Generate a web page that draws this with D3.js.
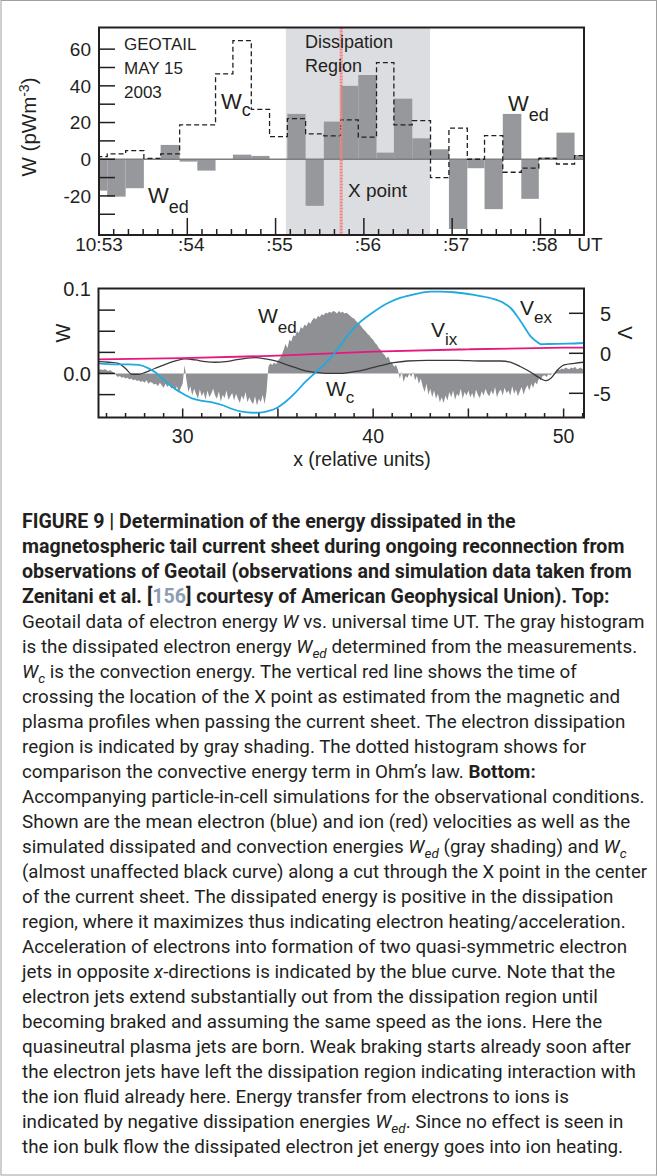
<!DOCTYPE html>
<html><head><meta charset="utf-8">
<script src="https://cdn.jsdelivr.net/npm/d3@7"></script>
<style>
body{margin:0;background:#fff;}
svg{display:block;}
.chart text{font-family:"Liberation Sans",Arial,sans-serif;fill:#231f20;}
.cap text{font-family:Roboto,"Liberation Sans",sans-serif;fill:#231f20;}
</style></head><body>
<svg id="fig" width="658" height="1176"></svg>
<script>
// ---------------- DATA ----------------
// Top panel: Geotail, seconds after 10:53:00 UT
const timeTickLabels = ["10:53", ":54", ":55", ":56", ":57", ":58"];
const timeTickSeconds = [0, 60, 120, 180, 240, 300];
const wTickValues = [-20, 0, 20, 40, 60];
const wTickLabels = ["-20", "0", "20", "40", "60"];
// histogram bin edges (s after 10:53:00)
const binEdges = [-6.6, 5.6, 18.1, 30.5, 41.9, 54.8, 66.8, 79.2, 91.0, 103.5, 115.9, 128.0, 140.4, 152.8,
  164.2, 176.2, 188.6, 200.4, 212.9, 225.3, 237.8, 250.3, 262.0, 274.4, 287.0, 298.9, 310.9, 323.2, 335.4];
// dissipated electron energy W_ed (pW m^-3), gray histogram
const wedObs = [-17.1, -20.4, -15.8, 0, 7.8, -1.3, -6.2, 0, 2.5, 1.8, 0, 24.7, -25.4, 20.5,
  40, 45.9, 3.6, 33, 11.4, 5.4, -38, -4.9, -27.2, 24.7, -21.6, 1, 14.5, 2.3];
// convection energy W_c (pW m^-3), dashed histogram
const wcObs = [1.4, 2.9, 4.7, 0.5, 2.9, 18.7, 18.7, 46.5, 64.6, 27.2, 12.3, 22.1, 13.8, 12.7,
  21.4, 12, 52.7, 18.7, 21, -10, 16.9, 0, 12.9, -7.1, -4.9, 0.5, -2.6, 2];
const dissipationRegion = [127, 225];
const xPointTime = 164.6;

// Bottom panel: PIC simulation, x in relative units
const simXTicks = [30, 40, 50];
const simWTickLabels = [[0.1, "0.1"], [0.0, "0.0"]];
const simVTickLabels = [[5, "5"], [0, "0"], [-5, "-5"]];
const simStart = 25.6, simStep = 0.1;
// W_ed simulated dissipation (units of 1e-3)
const wedSimMilli = [
  4,5,4,5,4,3,4,2,1,
  -2,-4,-3,-5,-4,-6,-5,-7,-6,-8,
  -7,-9,-8,-10,-9,-11,-8,-12,-10,-11,-13,
  -12,-15,-11,-14,-17,-12,-16,-13,-18,-15,
  -20,-15,-23,-17,-12,10,-8,-22,-15,-26,-18,
  -24,-30,-19,-27,-22,-31,-20,-28,-24,-18,
  -26,-30,-21,-33,-25,-29,-20,-31,-27,-23,
  -32,-24,-30,-35,-26,-31,-22,-34,-28,-33,
  -36,-27,-38,-30,-34,-25,-36,-22,
  8,12,10,13,11,15,18,22,
  28,35,30,40,38,45,44,
  50,48,55,53,58,56,61,59,63,
  66,64,68,67,70,69,72,71,73,
  72,74,73,71,74,72,73,71,72,70,
  68,66,65,62,60,58,55,
  52,50,47,45,42,40,
  36,34,30,28,24,22,
  18,20,14,12,8,10,
  4,-6,2,-10,-3,-5,
  0,-4,2,-8,-3,-12,-6,
  -15,-22,-12,-25,-18,-28,-20,
  -30,-24,-34,-28,-35,-26,-32,-22,
  -28,-20,-31,-24,-27,-18,-30,-22,-26,
  -20,-28,-23,-30,-19,-25,-29,-21,-26,-18,-24,
  -27,-20,-25,-16,-28,-22,-19,-26,-17,-23,
  -20,-26,-15,-24,-19,-27,-21,-16,-25,-18,-14,
  -20,-12,-17,-10,-13,-6,-8,
  -3,-2,-4,-1,-2,0,-1,
  2,5,4,6,5,7,6,5,7,6,8,5,6,7,5,6];
// W_c simulated convection energy [x, W]
const wcSim = [[25.58,0.0140],[26.11,0.0133],[26.63,0.0121],[26.99,0.0062],[27.34,-0.0009],[27.69,-0.0009],
  [28.04,0.0014],[28.56,0.0062],[29.09,0.0109],[29.62,0.0148],[30.14,0.0172],[30.67,0.0160],[31.19,0.0140],
  [31.72,0.0133],[32.24,0.0140],[32.77,0.0160],[33.30,0.0180],[33.82,0.0187],[34.35,0.0172],[34.87,0.0148],
  [35.40,0.0109],[35.93,0.0069],[36.45,0.0030],[36.98,0.0014],[37.50,0.0002],[38.03,0.0002],[38.29,0.0002],
  [38.99,0.0021],[39.69,0.0053],[40.39,0.0092],[41.09,0.0128],[41.80,0.0148],[42.85,0.0156],[44.43,0.0156],
  [45.65,0.0148],[46.70,0.0148],[47.23,0.0133],[47.75,0.0080],[48.28,0.0014],[48.72,-0.0050],[49.07,-0.0085],
  [49.33,-0.0057],[49.68,0.0041],[50.03,0.0101],[50.56,0.0121],[51.05,0.0133]];
// V_ex electron velocity [x, V]
const vexSim = [[25.58,-1.25],[26.46,-1.38],[27.16,-1.38],[27.69,-1.46],[28.21,-1.88],[28.56,-2.38],[28.92,-3.13],
  [29.44,-4.18],[29.97,-5.0],[30.49,-5.63],[31.02,-5.96],[31.55,-6.13],[32.07,-6.46],[32.60,-6.96],[33.12,-7.3],
  [33.65,-7.43],[34.17,-7.38],[34.52,-7.21],[34.96,-6.8],[35.40,-6.05],[35.93,-4.88],[36.45,-3.55],[36.98,-2.38],
  [37.50,-1.25],[38.03,0.2],[38.29,1.04],[38.55,1.88],[38.82,2.7],[39.34,3.95],[40.04,5.2],[40.75,6.25],
  [41.45,6.95],[42.15,7.38],[43.02,7.7],[43.55,7.7],[44.25,7.63],[45.30,7.29],[46.18,6.88],[46.88,6.25],
  [47.23,5.63],[47.58,4.58],[47.93,3.33],[48.28,2.08],[48.63,1.38],[48.81,1.13],[49.16,1.16],[50.21,1.2],[51.05,1.29]];
// V_ix ion velocity [x, V]
const vixSim = [[25.58,-0.75],[30,-0.6],[35,-0.3],[40,0.2],[45,0.5],[50,0.7],[51.05,0.72]];

// ---------------- DRAW ----------------
const svg = d3.select("#fig");
const defs = svg.append("defs");
svg.append("rect").attr("x",1).attr("y",0.5).attr("width",655.5).attr("height",1174.5)
  .attr("fill","none").attr("stroke","#a0a0a0").attr("stroke-width",1);

// ===== TOP PANEL =====
const T = {left:99, right:584, top:27.5, bottom:235};
const xT = d3.scaleLinear().domain([0, 329.6]).range([T.left, T.right]);
const yT = d3.scaleLinear().domain([-41.3, 71.8]).range([T.bottom, T.top]);
defs.append("clipPath").attr("id","clipT").append("rect")
  .attr("x",T.left).attr("y",T.top).attr("width",T.right-T.left).attr("height",T.bottom-T.top);
const gT = svg.append("g").attr("class","chart");
const pT = gT.append("g").attr("clip-path","url(#clipT)");
pT.append("rect").attr("x",xT(dissipationRegion[0])).attr("y",T.top)
  .attr("width",xT(dissipationRegion[1])-xT(dissipationRegion[0])).attr("height",T.bottom-T.top)
  .attr("fill","#dcdde0");
const bins = wedObs.map((v,i)=>({a:binEdges[i], b:binEdges[i+1], wed:v, wc:wcObs[i]}));
pT.selectAll("rect.bar").data(bins).join("rect").attr("class","bar")
  .attr("x",d=>xT(d.a)).attr("width",d=>xT(d.b)-xT(d.a))
  .attr("y",d=>yT(Math.max(0,d.wed))).attr("height",d=>Math.abs(yT(d.wed)-yT(0)))
  .attr("fill","#97989b");
pT.append("line").attr("x1",T.left).attr("x2",T.right).attr("y1",yT(0)).attr("y2",yT(0))
  .attr("stroke","#7d7e80").attr("stroke-width",1.5);
const stepPts = bins.map(d=>[d.a,d.wc]).concat([[binEdges[binEdges.length-1], wcObs[wcObs.length-1]]]);
pT.append("path").datum(stepPts)
  .attr("d", d3.line().x(d=>xT(d[0])).y(d=>yT(d[1])).curve(d3.curveStepAfter))
  .attr("fill","none").attr("stroke","#231f20").attr("stroke-width",1.3).attr("stroke-dasharray","5,3");
pT.append("line").attr("x1",xT(xPointTime)).attr("x2",xT(xPointTime)).attr("y1",T.top).attr("y2",T.bottom)
  .attr("stroke","#f08282").attr("stroke-width",3).attr("stroke-dasharray","2,1");
// ticks
d3.range(-30, 61, 10).forEach(v=>{
  gT.append("line").attr("x1",T.left).attr("x2",T.left+16).attr("y1",yT(v)).attr("y2",yT(v))
    .attr("stroke","#231f20").attr("stroke-width",1.5);
});
d3.range(10, 329, 10).forEach(s=>{
  const len = s%60===0 ? 17 : 6;
  gT.append("line").attr("x1",xT(s)).attr("x2",xT(s)).attr("y1",T.bottom).attr("y2",T.bottom-len)
    .attr("stroke","#231f20").attr("stroke-width",1.5);
});
gT.append("rect").attr("x",T.left).attr("y",T.top).attr("width",T.right-T.left).attr("height",T.bottom-T.top)
  .attr("fill","none").attr("stroke","#231f20").attr("stroke-width",2);
wTickValues.forEach((v,i)=>{
  gT.append("text").attr("x",91).attr("y",yT(v)).attr("dy","0.36em").attr("text-anchor","end")
    .attr("font-size",19).text(wTickLabels[i]);
});
timeTickSeconds.forEach((s,i)=>{
  gT.append("text").attr("x",xT(s)+(i===0?0:4)).attr("y",251).attr("text-anchor","middle")
    .attr("font-size",19).text(timeTickLabels[i]);
});
gT.append("text").attr("x",590).attr("y",251).attr("text-anchor","middle").attr("font-size",19).text("UT");
const yl = gT.append("text").attr("transform","translate(36,127) rotate(-90)").attr("text-anchor","middle").attr("font-size",20.5);
yl.append("tspan").text("W (pWm");
yl.append("tspan").attr("dy",-7).attr("font-size",14).text("-3");
yl.append("tspan").attr("dy",7).text(")");
[["GEOTAIL",50],["MAY 15",73.5],["2003",97.5]].forEach(([t,y])=>{
  gT.append("text").attr("x",124).attr("y",y).attr("font-size",17).text(t);
});
gT.append("text").attr("x",305).attr("y",48).attr("font-size",18).text("Dissipation");
gT.append("text").attr("x",305).attr("y",72).attr("font-size",18).text("Region");
gT.append("text").attr("x",348).attr("y",197).attr("font-size",19).text("X point");
function subLabel(g, x, y, main, sub, dy, fs, sfs){
  const t = g.append("text").attr("x",x).attr("y",y).attr("font-size",fs);
  t.append("tspan").text(main);
  t.append("tspan").attr("dy",dy).attr("font-size",sfs).text(sub);
}
subLabel(gT, 221, 109, "W", "c", 7, 22, 18);
subLabel(gT, 148, 203, "W", "ed", 10, 22, 18);
subLabel(gT, 508, 111, "W", "ed", 10, 22, 18);

// ===== BOTTOM PANEL =====
const B = {left:98.5, right:584, top:288.5, bottom:417.5};
const xB = d3.scaleLinear().domain([25.58, 51.07]).range([B.left, B.right]);
const yW = d3.scaleLinear().domain([-0.05207, 0.10059]).range([B.bottom, B.top]);
const yV = d3.scaleLinear().domain([-8.025, 8.1]).range([B.bottom, B.top]);
defs.append("clipPath").attr("id","clipB").append("rect")
  .attr("x",B.left).attr("y",B.top).attr("width",B.right-B.left).attr("height",B.bottom-B.top);
const gB = svg.append("g").attr("class","chart");
const pB = gB.append("g").attr("clip-path","url(#clipB)");
const wedSim = wedSimMilli.map((v,i)=>[simStart + i*simStep, v/1000]);
pB.append("path").datum(wedSim)
  .attr("d", d3.area().x(d=>xB(d[0])).y0(yW(0)).y1(d=>yW(d[1])))
  .attr("fill","#8f9093");
pB.append("path").datum(wcSim)
  .attr("d", d3.line().x(d=>xB(d[0])).y(d=>yW(d[1])).curve(d3.curveMonotoneX))
  .attr("fill","none").attr("stroke","#3a3a3a").attr("stroke-width",1.3);
pB.append("path").datum(vixSim)
  .attr("d", d3.line().x(d=>xB(d[0])).y(d=>yV(d[1])).curve(d3.curveMonotoneX))
  .attr("fill","none").attr("stroke","#e6177f").attr("stroke-width",1.8);
pB.append("path").datum(vexSim)
  .attr("d", d3.line().x(d=>xB(d[0])).y(d=>yV(d[1])).curve(d3.curveMonotoneX))
  .attr("fill","none").attr("stroke","#1fa9e1").attr("stroke-width",1.8);
// ticks
[-0.025, 0, 0.025, 0.05, 0.075].forEach(v=>{
  gB.append("line").attr("x1",B.left).attr("x2",B.left+16.5).attr("y1",yW(v)).attr("y2",yW(v))
    .attr("stroke","#231f20").attr("stroke-width",1.5);
});
[-5, 0, 5].forEach(v=>{
  gB.append("line").attr("x1",B.right-15).attr("x2",B.right).attr("y1",yV(v)).attr("y2",yV(v))
    .attr("stroke","#231f20").attr("stroke-width",1.5);
});
d3.range(26, 52, 1).forEach(v=>{
  const len = v%5===0 ? 9 : 4.5;
  gB.append("line").attr("x1",xB(v)).attr("x2",xB(v)).attr("y1",B.bottom).attr("y2",B.bottom-len)
    .attr("stroke","#231f20").attr("stroke-width",1.5);
});
gB.append("rect").attr("x",B.left).attr("y",B.top).attr("width",B.right-B.left).attr("height",B.bottom-B.top)
  .attr("fill","none").attr("stroke","#231f20").attr("stroke-width",2);
simWTickLabels.forEach(([v,t])=>{
  gB.append("text").attr("x",91).attr("y",yW(v)).attr("dy","0.36em").attr("text-anchor","end").attr("font-size",20).text(t);
});
simVTickLabels.forEach(([v,t])=>{
  gB.append("text").attr("x",611).attr("y",yV(v)).attr("dy","0.36em").attr("text-anchor","end").attr("font-size",20).text(t);
});
simXTicks.forEach(v=>{
  gB.append("text").attr("x",xB(v)).attr("y",443).attr("text-anchor","middle").attr("font-size",19.5).text(v);
});
gB.append("text").attr("x",362).attr("y",466).attr("text-anchor","middle").attr("font-size",19.5).text("x (relative units)");
gB.append("text").attr("transform","translate(70,333) rotate(-90)").attr("text-anchor","middle").attr("font-size",20).text("W");
gB.append("text").attr("transform","translate(618,333) rotate(90)").attr("text-anchor","middle").attr("font-size",20).text("V");
subLabel(gB, 258, 323, "W", "ed", 10, 21, 17);
subLabel(gB, 326, 396, "W", "c", 7, 21, 17);
subLabel(gB, 431, 337, "V", "ix", 8, 21, 17);
subLabel(gB, 520, 315, "V", "ex", 8, 21, 17);

// ===== CAPTION =====
const captionLines = [
 [["FIGURE 9 | Determination of the energy dissipated in the","b"]],
 [["magnetospheric tail current sheet during ongoing reconnection from","b"]],
 [["observations of Geotail (observations and simulation data taken from","b"]],
 [["Zenitani et al. [","b"],["156","bc"],["] courtesy of American Geophysical Union). Top:","b"]],
 [["Geotail data of electron energy ",""],["W","i"],[" vs. universal time UT. The gray histogram",""]],
 [["is the dissipated electron energy ",""],["W","i"],["ed","s"],[" determined from the measurements.",""]],
 [["W","i"],["c","s"],[" is the convection energy. The vertical red line shows the time of",""]],
 [["crossing the location of the X point as estimated from the magnetic and",""]],
 [["plasma profiles when passing the current sheet. The electron dissipation",""]],
 [["region is indicated by gray shading. The dotted histogram shows for",""]],
 [["comparison the convective energy term in Ohm’s law. ",""],["Bottom:","b"]],
 [["Accompanying particle-in-cell simulations for the observational conditions.",""]],
 [["Shown are the mean electron (blue) and ion (red) velocities as well as the",""]],
 [["simulated dissipated and convection energies ",""],["W","i"],["ed","s"],[" (gray shading) and ",""],["W","i"],["c","s"]],
 [["(almost unaffected black curve) along a cut through the X point in the center",""]],
 [["of the current sheet. The dissipated energy is positive in the dissipation",""]],
 [["region, where it maximizes thus indicating electron heating/acceleration.",""]],
 [["Acceleration of electrons into formation of two quasi-symmetric electron",""]],
 [["jets in opposite ",""],["x","i"],["-directions is indicated by the blue curve. Note that the",""]],
 [["electron jets extend substantially out from the dissipation region until",""]],
 [["becoming braked and assuming the same speed as the ions. Here the",""]],
 [["quasineutral plasma jets are born. Weak braking starts already soon after",""]],
 [["the electron jets have left the dissipation region indicating interaction with",""]],
 [["the ion fluid already here. Energy transfer from electrons to ions is",""]],
 [["indicated by negative dissipation energies ",""],["W","i"],["ed","s"],[". Since no effect is seen in",""]],
 [["the ion bulk flow the dissipated electron jet energy goes into ion heating.",""]]
];
const gC = svg.append("g").attr("class","cap");
captionLines.forEach((segs,i)=>{
  const t = gC.append("text").attr("x",22).attr("y",528 + 25*i).attr("font-size",18.8);
  let off = 0;
  segs.forEach(([s,st])=>{
    const sp = t.append("tspan").text(s);
    if (st.includes("b")) sp.attr("font-weight","bold").attr("font-size",i<4 ? 19.6 : 18.8);
    if (st === "bc") sp.attr("fill","#8c9db3");
    if (st === "i") sp.attr("font-style","italic");
    if (st === "s") { sp.attr("font-style","italic").attr("font-size",13.5).attr("dy",4.5-off); off = 4.5; }
    else if (off) { sp.attr("dy",-off); off = 0; }
  });
  const w = t.node().getComputedTextLength();
  if (w > 625) t.attr("textLength",625).attr("lengthAdjust","spacingAndGlyphs");
});
</script>
</body></html>
